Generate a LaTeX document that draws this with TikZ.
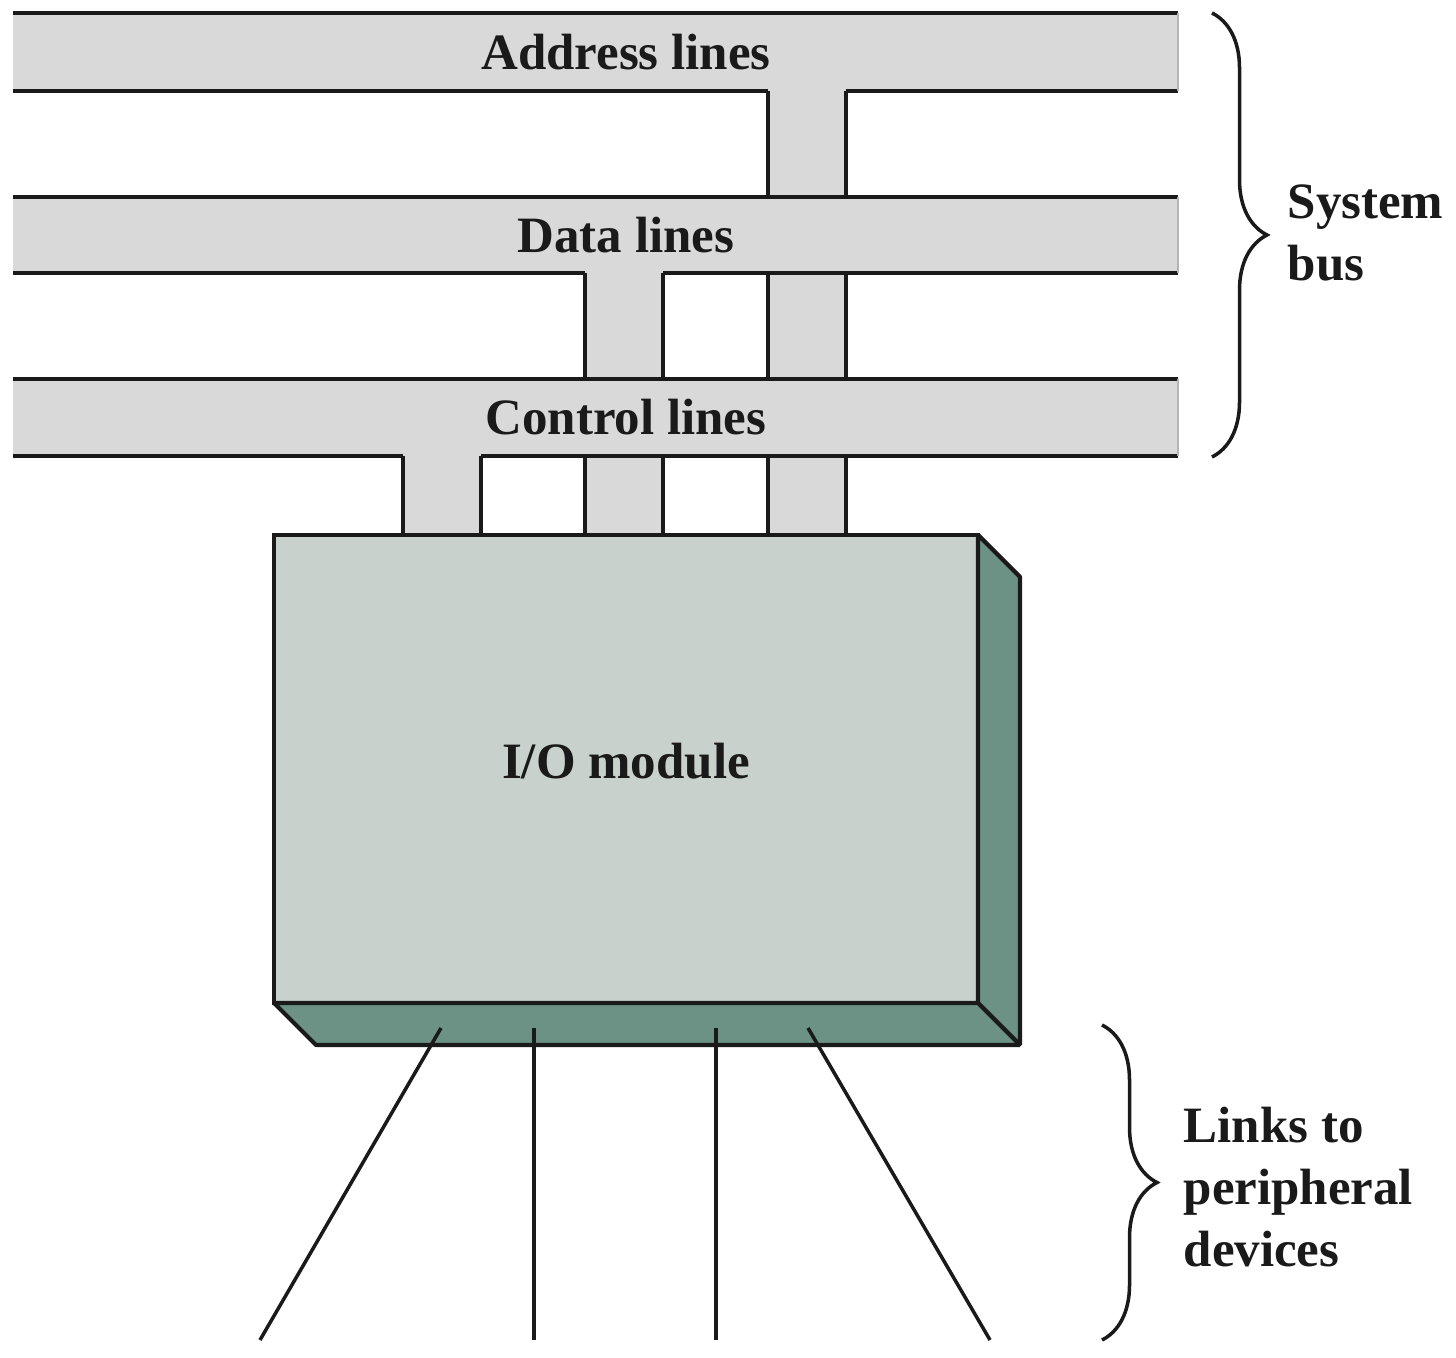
\documentclass[tikz,border=0pt]{standalone}
\usepackage{fontspec}
\setmainfont{Liberation Serif}
\usepackage{xcolor}
\usepackage{tikz}
\usetikzlibrary{decorations.pathreplacing}
\definecolor{BusGray}{HTML}{D9D9D9}
\definecolor{EdgeGray}{HTML}{B4B4B4}
\definecolor{FaceGray}{HTML}{C8D1CC}
\definecolor{SideTeal}{HTML}{6B9285}
\definecolor{InkBlack}{HTML}{1A1A1A}
\tikzset{
  BL/.style={fill=BusGray,draw=none},
  ED/.style={line width=1.2pt,draw=InkBlack},
  LB/.style={font=\fontsize{14.5}{17.6}\selectfont\bfseries,text=InkBlack,inner sep=0pt},
  SD/.style={ED,fill=SideTeal,line join=bevel},
  FC/.style={rectangle,ED,fill=FaceGray,outer sep=0pt,
             minimum width=7.04cm,minimum height=4.68cm},
  lnk/.style={line width=1pt,draw=InkBlack},
  brc/.style={decorate,decoration={brace,amplitude=0.55cm},line width=1pt,draw=InkBlack}
}
\begin{document}
\begin{tikzpicture}
  \useasboundingbox (0,0) rectangle (14.56,-13.58);

  \foreach \xa/\xb/\ya in {7.68/8.46/0.91,5.85/6.63/2.73,4.03/4.81/4.56}{
    \fill[BL] (\xa,-\ya) rectangle (\xb,-5.35);
    \draw[ED] (\xa,-\ya) -- (\xa,-5.35) (\xb,-\ya) -- (\xb,-5.35);
  }

  \foreach \yt/\yb/\ga/\gb/\nm/\txt in {0.13/0.91/7.68/8.46/addr/Address lines,
      1.97/2.73/5.85/6.63/data/Data lines,3.79/4.56/4.03/4.81/ctrl/Control lines}{
    \fill[BL] (0.13,-\yt) rectangle (11.78,-\yb);
    \draw[ED] (0.13,-\yt) -- (11.78,-\yt);
    \draw[ED] (0.13,-\yb) -- (\ga,-\yb) (\gb,-\yb) -- (11.78,-\yb);
    \draw[EdgeGray,line width=0.6pt] (11.78,-\yt) -- (11.78,-\yb);
    \node[LB] (\nm) at (6.26,{-(\yt+\yb)/2}) {\txt};
  }

  \node[FC] (iom) at (6.26,-7.69) {};
  \node[LB] (iolbl) at ([yshift=0.08cm]iom.center) {I/O module};
  \draw[SD] (iom.north east) -- ++(0.42,-0.42) -- ++(0,-4.68) -- (iom.south east) -- cycle;
  \draw[SD] (iom.south west) -- ++(0.42,-0.42) -- ++(7.04,0) -- (iom.south east) -- cycle;

  \foreach \i/\xa/\xb in {1/4.41/2.60,2/5.34/5.34,3/7.16/7.16,4/8.08/9.90}{
    \coordinate (t\i) at (\xa,-10.28);
    \coordinate (b\i) at (\xb,-13.40);
    \draw[lnk] (t\i) -- (b\i);
  }

  \draw[brc] (12.12,-0.13) -- (12.12,-4.57);
  \node[LB,anchor=west,align=left] (sbus) at (12.87,-2.33) {System\\bus};
  \draw[brc] (11.02,-10.25) -- (11.02,-13.40);
  \node[LB,anchor=west,align=left] (perl) at (11.83,-11.87) {Links to\\peripheral\\devices};
\end{tikzpicture}
\end{document}
